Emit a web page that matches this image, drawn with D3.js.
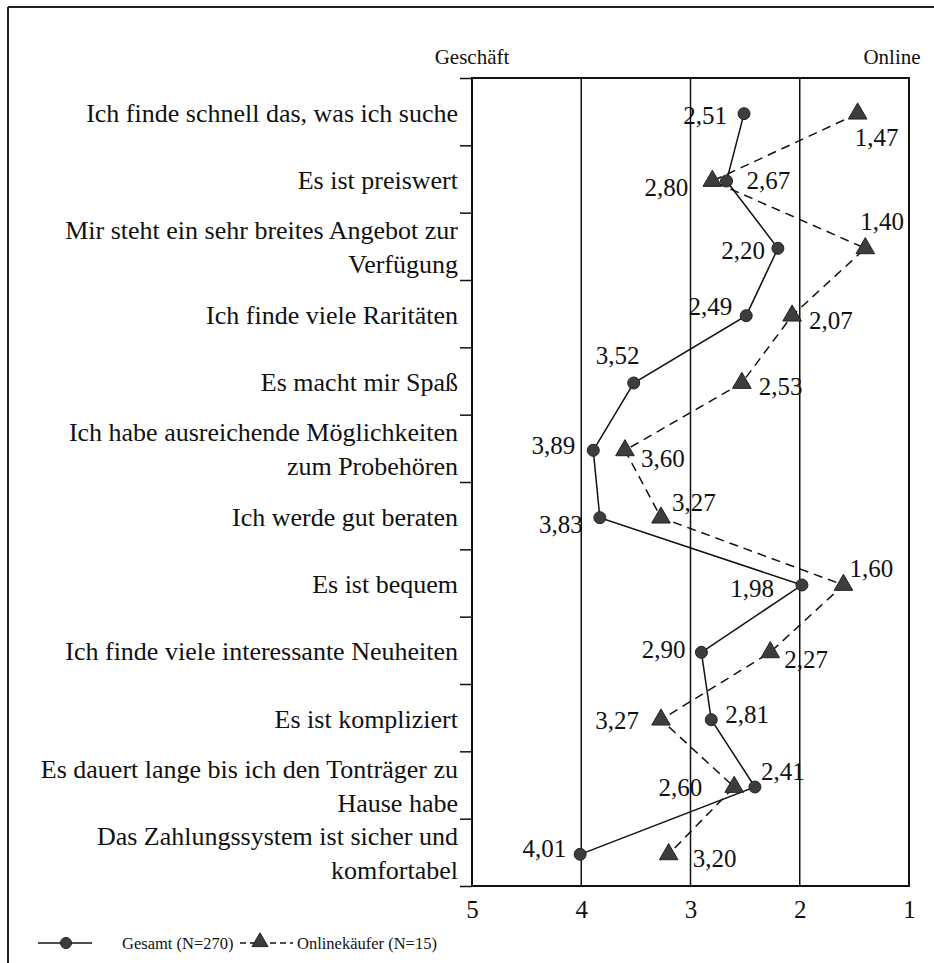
<!DOCTYPE html>
<html>
<head>
<meta charset="utf-8">
<script src="https://cdn.jsdelivr.net/npm/d3@7"></script>
<style>
  html, body { margin: 0; padding: 0; background: #fff; }
  svg { display: block; }
  text { font-family: 'Liberation Serif', 'Times New Roman', serif; }
</style>
</head>
<body>
<svg id="chart" width="934" height="963"></svg>
<script>
// ---- data ----
const categories = [
  "Ich finde schnell das, was ich suche",
  "Es ist preiswert",
  "Mir steht ein sehr breites Angebot zur\nVerfügung",
  "Ich finde viele Raritäten",
  "Es macht mir Spaß",
  "Ich habe ausreichende Möglichkeiten\nzum Probehören",
  "Ich werde gut beraten",
  "Es ist bequem",
  "Ich finde viele interessante Neuheiten",
  "Es ist kompliziert",
  "Es dauert lange bis ich den Tonträger zu\nHause habe",
  "Das Zahlungssystem ist sicher und\nkomfortabel"
];
const gesamt = [2.51, 2.67, 2.20, 2.49, 3.52, 3.89, 3.83, 1.98, 2.90, 2.81, 2.41, 4.01];
const online = [1.47, 2.80, 1.40, 2.07, 2.53, 3.60, 3.27, 1.60, 2.27, 3.27, 2.60, 3.20];
const xTicks = [5, 4, 3, 2, 1];
const seriesNames = ["Gesamt (N=270)", "Onlinekäufer (N=15)"];
const endLabels = ["Geschäft", "Online"];

// label placement next to each marker: [anchor, dx, dy]
const gesamtLabelPos = [
  ["end", -17, 2], ["start", 20, -1], ["end", -13, 2], ["end", -14, -9],
  ["middle", -16, -28], ["end", -18, -5], ["end", -17, 7], ["end", -28, 3],
  ["end", -16, -3], ["start", 14, -5], ["start", 6, -16], ["end", -14, -6]
];
const onlineLabelPos = [
  ["start", -3, 24], ["end", -24, 6], ["start", -5, -27], ["start", 17, 5],
  ["start", 17, 3], ["start", 16, 8], ["start", 11, -15], ["start", 6, -17],
  ["start", 14, 7], ["end", -22, 1], ["end", -32, 0], ["start", 24, 4]
];

// ---- layout ----
const FONT = "'Liberation Serif', 'Times New Roman', serif";
const svg = d3.select("#chart").attr("font-family", FONT);
const plot = { left: 472, right: 909, top: 78, bottom: 886 };
const ink = "#111";
const markFill = "#3d3d3d";

const x = d3.scaleLinear().domain([5, 1]).range([plot.left, plot.right]);
const y = d3.scaleBand().domain(d3.range(categories.length)).range([plot.top, plot.bottom]).padding(0);
const yEdge = d3.scaleLinear().domain([0, categories.length]).range([plot.top, plot.bottom]);
const cy = i => y(i) + y.bandwidth() / 2 + 2;
const fmt = v => d3.format(".2f")(v).replace(".", ",");

// outer frame (top & left edges visible)
svg.append("line").attr("x1", 8).attr("x2", 934).attr("y1", 7).attr("y2", 7)
  .attr("stroke", "#222").attr("stroke-width", 2);
svg.append("line").attr("x1", 8).attr("x2", 8).attr("y1", 7).attr("y2", 963)
  .attr("stroke", "#222").attr("stroke-width", 2);

// grid lines
svg.append("g").selectAll("line").data([4, 3, 2]).join("line")
  .attr("x1", d => x(d)).attr("x2", d => x(d))
  .attr("y1", plot.top).attr("y2", plot.bottom)
  .attr("stroke", ink).attr("stroke-width", 1.5);

// plot border
svg.append("rect").attr("x", plot.left).attr("y", plot.top)
  .attr("width", plot.right - plot.left).attr("height", plot.bottom - plot.top)
  .attr("fill", "none").attr("stroke", ink).attr("stroke-width", 2);

// left axis ticks at category boundaries
const yAxis = svg.append("g").attr("transform", `translate(${plot.left},0)`)
  .call(d3.axisLeft(yEdge).tickValues(d3.range(0, categories.length + 1)).tickSize(12).tickFormat(""));
yAxis.select(".domain").remove();
yAxis.selectAll("line").attr("stroke", ink).attr("stroke-width", 1.5);

// bottom axis labels
const xAxis = svg.append("g").attr("transform", `translate(0,${plot.bottom})`)
  .call(d3.axisBottom(x).tickValues(xTicks).tickSize(0).tickPadding(14).tickFormat(d3.format("d")));
xAxis.attr("font-family", FONT).attr("font-size", 25);
xAxis.select(".domain").remove();
xAxis.selectAll("text").attr("fill", ink);

// category labels
const catG = svg.append("g").attr("font-family", FONT).attr("font-size", 26)
  .attr("fill", ink).attr("text-anchor", "end");
categories.forEach((c, i) => {
  const lines = c.split("\n");
  const lh = 34;
  const t = catG.append("text").attr("x", plot.left - 14);
  lines.forEach((ln, k) => {
    t.append("tspan").attr("x", plot.left - 14)
      .attr("y", y(i) + y.bandwidth() / 2 + 10 + (k - (lines.length - 1) / 2) * lh)
      .text(ln);
  });
});

// end labels
svg.append("text").attr("x", x(5)).attr("y", 64).attr("text-anchor", "middle")
  .attr("font-size", 21).attr("fill", ink).text(endLabels[0]);
svg.append("text").attr("x", x(1) - 17).attr("y", 64).attr("text-anchor", "middle")
  .attr("font-size", 21).attr("fill", ink).text(endLabels[1]);

// lines
const line = d3.line().x(d => x(d[0])).y(d => cy(d[1]));
svg.append("path").datum(gesamt.map((v, i) => [v, i])).attr("d", line)
  .attr("fill", "none").attr("stroke", ink).attr("stroke-width", 1.5);
svg.append("path").datum(online.map((v, i) => [v, i])).attr("d", line)
  .attr("fill", "none").attr("stroke", ink).attr("stroke-width", 1.5).attr("stroke-dasharray", "9,6");

// markers
const tri = d3.symbol().type(d3.symbolTriangle).size(150);
svg.append("g").selectAll("path").data(online).join("path")
  .attr("d", tri).attr("transform", (d, i) => `translate(${x(d)},${cy(i)})`)
  .attr("fill", markFill).attr("stroke", "#222").attr("stroke-width", 1);
svg.append("g").selectAll("circle").data(gesamt).join("circle")
  .attr("cx", d => x(d)).attr("cy", (d, i) => cy(i)).attr("r", 6)
  .attr("fill", markFill).attr("stroke", "#222").attr("stroke-width", 1);

// value labels
function valueLabels(vals, pos) {
  svg.append("g").attr("font-family", FONT).attr("font-size", 25).attr("fill", ink)
    .selectAll("text").data(vals).join("text")
    .attr("text-anchor", (d, i) => pos[i][0])
    .attr("x", (d, i) => x(d) + pos[i][1])
    .attr("y", (d, i) => cy(i) + pos[i][2])
    .attr("dy", "0.35em")
    .text(d => fmt(d));
}
valueLabels(gesamt, gesamtLabelPos);
valueLabels(online, onlineLabelPos);

// legend
const lg = svg.append("g").attr("transform", "translate(0,943)").attr("font-family", FONT);
lg.append("line").attr("x1", 38).attr("x2", 92).attr("y1", 0).attr("y2", 0)
  .attr("stroke", ink).attr("stroke-width", 1.5);
lg.append("circle").attr("cx", 66).attr("cy", 0).attr("r", 5.5)
  .attr("fill", markFill).attr("stroke", "#222");
lg.append("text").attr("x", 122).attr("y", 0).attr("dy", "0.35em")
  .attr("font-size", 16.5).attr("fill", ink).text(seriesNames[0]);
lg.append("line").attr("x1", 240).attr("x2", 293).attr("y1", 0).attr("y2", 0)
  .attr("stroke", ink).attr("stroke-width", 1.5).attr("stroke-dasharray", "6,4");
lg.append("path").attr("d", d3.symbol().type(d3.symbolTriangle).size(110))
  .attr("transform", "translate(260,-1)").attr("fill", markFill).attr("stroke", "#222");
lg.append("text").attr("x", 297).attr("y", 0).attr("dy", "0.35em")
  .attr("font-size", 16.5).attr("fill", ink).text(seriesNames[1]);
</script>
</body>
</html>
